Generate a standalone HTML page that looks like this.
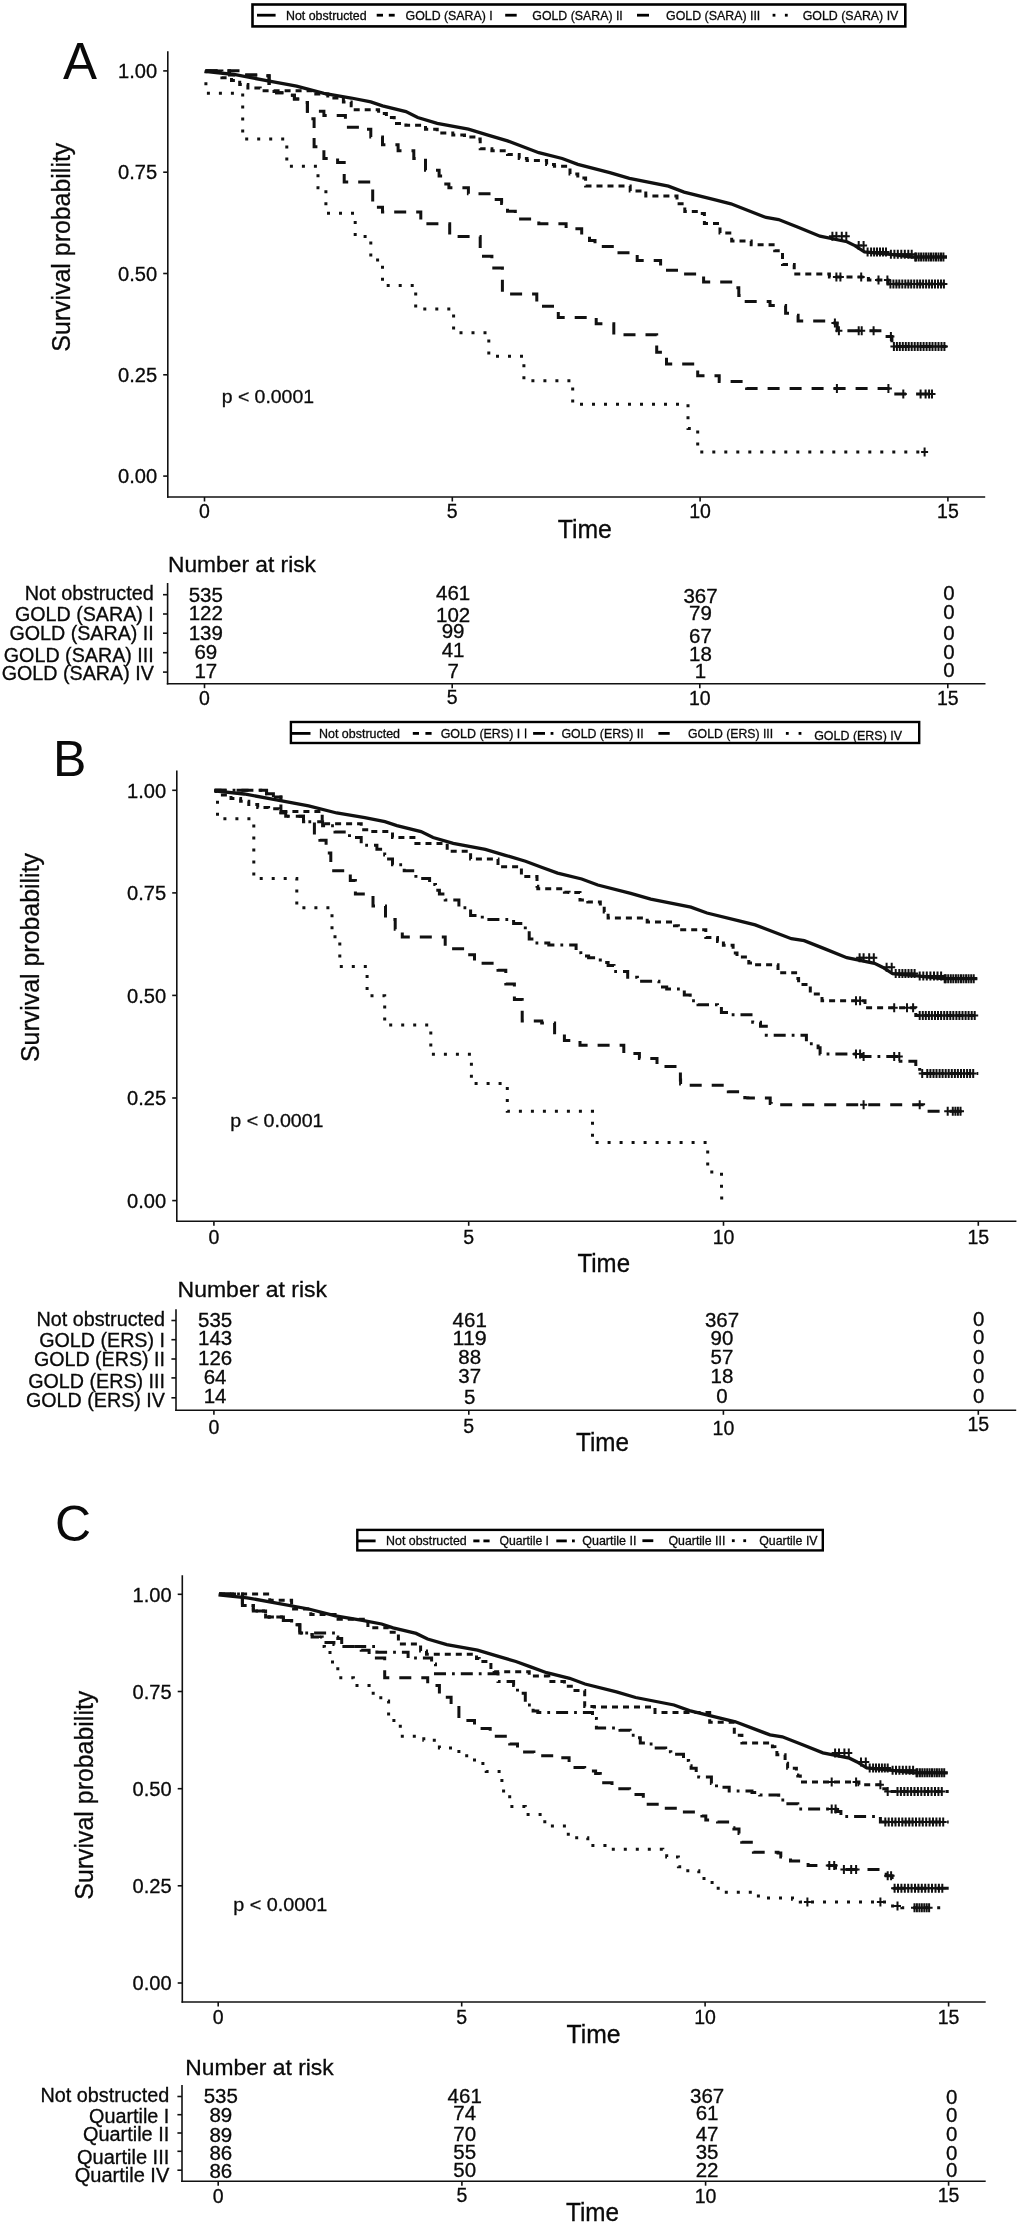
<!DOCTYPE html><html><head><meta charset="utf-8"><style>html,body{margin:0;padding:0;background:#fff;}svg{display:block;will-change:transform;}text{font-family:"Liberation Sans", sans-serif;fill:#0a0a0a;stroke:#0a0a0a;stroke-width:0.3px;}</style></head><body>
<svg width="1024" height="2228" viewBox="0 0 1024 2228">
<rect width="1024" height="2228" fill="#fff"/>
<line x1="167.8" y1="51.3" x2="167.8" y2="497.8" stroke="#111" stroke-width="1.6"/>
<line x1="167.0" y1="497.0" x2="985.2" y2="497.0" stroke="#111" stroke-width="1.6"/>
<line x1="163.2" y1="476.1" x2="167.8" y2="476.1" stroke="#111" stroke-width="1.6"/>
<text x="157.2" y="483.3" font-size="19.5" text-anchor="end" textLength="39.1" lengthAdjust="spacingAndGlyphs" >0.00</text>
<line x1="163.2" y1="374.8" x2="167.8" y2="374.8" stroke="#111" stroke-width="1.6"/>
<text x="157.2" y="382.0" font-size="19.5" text-anchor="end" textLength="39.1" lengthAdjust="spacingAndGlyphs" >0.25</text>
<line x1="163.2" y1="273.5" x2="167.8" y2="273.5" stroke="#111" stroke-width="1.6"/>
<text x="157.2" y="280.7" font-size="19.5" text-anchor="end" textLength="39.1" lengthAdjust="spacingAndGlyphs" >0.50</text>
<line x1="163.2" y1="172.2" x2="167.8" y2="172.2" stroke="#111" stroke-width="1.6"/>
<text x="157.2" y="179.4" font-size="19.5" text-anchor="end" textLength="39.1" lengthAdjust="spacingAndGlyphs" >0.75</text>
<line x1="163.2" y1="70.9" x2="167.8" y2="70.9" stroke="#111" stroke-width="1.6"/>
<text x="157.2" y="78.1" font-size="19.5" text-anchor="end" textLength="39.1" lengthAdjust="spacingAndGlyphs" >1.00</text>
<line x1="204.5" y1="497.0" x2="204.5" y2="501.5" stroke="#111" stroke-width="1.6"/>
<text x="204.5" y="517.5" font-size="19.5" text-anchor="middle" >0</text>
<line x1="452.3" y1="497.0" x2="452.3" y2="501.5" stroke="#111" stroke-width="1.6"/>
<text x="452.3" y="517.5" font-size="19.5" text-anchor="middle" >5</text>
<line x1="700.1" y1="497.0" x2="700.1" y2="501.5" stroke="#111" stroke-width="1.6"/>
<text x="700.1" y="517.5" font-size="19.5" text-anchor="middle" >10</text>
<line x1="947.9" y1="497.0" x2="947.9" y2="501.5" stroke="#111" stroke-width="1.6"/>
<text x="947.9" y="517.5" font-size="19.5" text-anchor="middle" >15</text>
<text x="62.9" y="78.6" font-size="51" text-anchor="start" style="stroke-width:0">A</text>
<text x="0" y="0" font-size="26" text-anchor="middle" textLength="209" lengthAdjust="spacingAndGlyphs" transform="translate(70.3,247.2) rotate(-90)">Survival probability</text>
<text x="221.7" y="402.5" font-size="19" text-anchor="start" textLength="92.3" lengthAdjust="spacingAndGlyphs" >p &lt; 0.0001</text>
<text x="557.7" y="537.5" font-size="25" text-anchor="start" textLength="54.2" lengthAdjust="spacingAndGlyphs" >Time</text>
<line x1="176.8" y1="770.4" x2="176.8" y2="1222.1" stroke="#111" stroke-width="1.6"/>
<line x1="176.0" y1="1221.3" x2="1016.4" y2="1221.3" stroke="#111" stroke-width="1.6"/>
<line x1="172.2" y1="1200.6" x2="176.8" y2="1200.6" stroke="#111" stroke-width="1.6"/>
<text x="166.2" y="1207.8" font-size="19.5" text-anchor="end" textLength="39.1" lengthAdjust="spacingAndGlyphs" >0.00</text>
<line x1="172.2" y1="1098.0" x2="176.8" y2="1098.0" stroke="#111" stroke-width="1.6"/>
<text x="166.2" y="1105.2" font-size="19.5" text-anchor="end" textLength="39.1" lengthAdjust="spacingAndGlyphs" >0.25</text>
<line x1="172.2" y1="995.4" x2="176.8" y2="995.4" stroke="#111" stroke-width="1.6"/>
<text x="166.2" y="1002.6" font-size="19.5" text-anchor="end" textLength="39.1" lengthAdjust="spacingAndGlyphs" >0.50</text>
<line x1="172.2" y1="892.9" x2="176.8" y2="892.9" stroke="#111" stroke-width="1.6"/>
<text x="166.2" y="900.1" font-size="19.5" text-anchor="end" textLength="39.1" lengthAdjust="spacingAndGlyphs" >0.75</text>
<line x1="172.2" y1="790.3" x2="176.8" y2="790.3" stroke="#111" stroke-width="1.6"/>
<text x="166.2" y="797.5" font-size="19.5" text-anchor="end" textLength="39.1" lengthAdjust="spacingAndGlyphs" >1.00</text>
<line x1="213.9" y1="1221.3" x2="213.9" y2="1225.8" stroke="#111" stroke-width="1.6"/>
<text x="213.9" y="1243.5" font-size="19.5" text-anchor="middle" >0</text>
<line x1="468.7" y1="1221.3" x2="468.7" y2="1225.8" stroke="#111" stroke-width="1.6"/>
<text x="468.7" y="1243.5" font-size="19.5" text-anchor="middle" >5</text>
<line x1="723.5" y1="1221.3" x2="723.5" y2="1225.8" stroke="#111" stroke-width="1.6"/>
<text x="723.5" y="1243.5" font-size="19.5" text-anchor="middle" >10</text>
<line x1="978.3" y1="1221.3" x2="978.3" y2="1225.8" stroke="#111" stroke-width="1.6"/>
<text x="978.3" y="1243.5" font-size="19.5" text-anchor="middle" >15</text>
<text x="53.0" y="776.3" font-size="50" text-anchor="start" style="stroke-width:0">B</text>
<text x="0" y="0" font-size="26" text-anchor="middle" textLength="209" lengthAdjust="spacingAndGlyphs" transform="translate(39.4,957.5) rotate(-90)">Survival probability</text>
<text x="230.3" y="1127.1" font-size="19" text-anchor="start" textLength="93.2" lengthAdjust="spacingAndGlyphs" >p &lt; 0.0001</text>
<text x="577.5" y="1272.2" font-size="25" text-anchor="start" textLength="52.5" lengthAdjust="spacingAndGlyphs" >Time</text>
<line x1="182.3" y1="1575.2" x2="182.3" y2="2002.8" stroke="#111" stroke-width="1.6"/>
<line x1="181.5" y1="2002.0" x2="985.7" y2="2002.0" stroke="#111" stroke-width="1.6"/>
<line x1="177.7" y1="1983.0" x2="182.3" y2="1983.0" stroke="#111" stroke-width="1.6"/>
<text x="171.7" y="1990.2" font-size="19.5" text-anchor="end" textLength="39.1" lengthAdjust="spacingAndGlyphs" >0.00</text>
<line x1="177.7" y1="1885.8" x2="182.3" y2="1885.8" stroke="#111" stroke-width="1.6"/>
<text x="171.7" y="1893.0" font-size="19.5" text-anchor="end" textLength="39.1" lengthAdjust="spacingAndGlyphs" >0.25</text>
<line x1="177.7" y1="1788.7" x2="182.3" y2="1788.7" stroke="#111" stroke-width="1.6"/>
<text x="171.7" y="1795.9" font-size="19.5" text-anchor="end" textLength="39.1" lengthAdjust="spacingAndGlyphs" >0.50</text>
<line x1="177.7" y1="1691.5" x2="182.3" y2="1691.5" stroke="#111" stroke-width="1.6"/>
<text x="171.7" y="1698.7" font-size="19.5" text-anchor="end" textLength="39.1" lengthAdjust="spacingAndGlyphs" >0.75</text>
<line x1="177.7" y1="1594.3" x2="182.3" y2="1594.3" stroke="#111" stroke-width="1.6"/>
<text x="171.7" y="1601.5" font-size="19.5" text-anchor="end" textLength="39.1" lengthAdjust="spacingAndGlyphs" >1.00</text>
<line x1="218.2" y1="2002.0" x2="218.2" y2="2006.5" stroke="#111" stroke-width="1.6"/>
<text x="218.2" y="2024.3" font-size="19.5" text-anchor="middle" >0</text>
<line x1="461.7" y1="2002.0" x2="461.7" y2="2006.5" stroke="#111" stroke-width="1.6"/>
<text x="461.7" y="2024.3" font-size="19.5" text-anchor="middle" >5</text>
<line x1="705.1" y1="2002.0" x2="705.1" y2="2006.5" stroke="#111" stroke-width="1.6"/>
<text x="705.1" y="2024.3" font-size="19.5" text-anchor="middle" >10</text>
<line x1="948.6" y1="2002.0" x2="948.6" y2="2006.5" stroke="#111" stroke-width="1.6"/>
<text x="948.6" y="2024.3" font-size="19.5" text-anchor="middle" >15</text>
<text x="55.1" y="1541.0" font-size="50" text-anchor="start" style="stroke-width:0">C</text>
<text x="0" y="0" font-size="26" text-anchor="middle" textLength="209" lengthAdjust="spacingAndGlyphs" transform="translate(93.1,1795.2) rotate(-90)">Survival probability</text>
<text x="233.2" y="1910.6" font-size="19" text-anchor="start" textLength="94.0" lengthAdjust="spacingAndGlyphs" >p &lt; 0.0001</text>
<text x="566.6" y="2043.4" font-size="25" text-anchor="start" textLength="54.0" lengthAdjust="spacingAndGlyphs" >Time</text>
<g fill="none" stroke="#111" stroke-width="3" stroke-linejoin="miter" stroke-linecap="butt">
<path d="M204.8,71.4L234.1,74.5L265.3,80.4L296.6,86.2L323.9,93.3L351.2,98.0L370.8,101.9L382.5,105.8L405.9,111.6L417.7,117.5L437.2,123.4L468.4,129.2L488.0,135.1L507.5,140.9L523.1,146.8L538.8,152.7L562.2,158.5L577.8,164.4L609.8,172.6L629.4,178.4L668.4,186.2L684.1,192.1L715.3,199.9L730.9,203.8L766.1,217.5L778.6,219.5L798.1,227.3L820.0,236.2L847.0,241.7L854.8,245.6L864.5,251.9L888.4,254.2L913.0,257.0L947.0,257.0" stroke-width="3.3"/>
<path d="M205.5,70.9H221.9V77.8H231.5V80.5H239.7V84.6H247.9V88.0H260.2V90.8H312.2V94.1H327.8V98.0H343.4V101.9H351.2V105.8H355.2V109.7H378.6V113.6H386.4V117.5H394.2V123.4H405.9V125.3H425.5V129.2H437.2V133.1H452.8V135.1H464.5V137.0H476.2V139.0H480.2V148.8H491.9V150.7H507.5V154.6H519.2V158.5H527.0V160.5H546.6V164.4H554.4V166.3H570.0V174.1H577.8V178.0H585.6V185.9H630.2V190.9H645.8V196.0H677.0V203.8H684.8V211.6H700.5V213.6H704.4V223.4H720.0V233.1H731.7V240.9H751.2V244.8H774.7V250.7H782.5V264.4H794.2V274.1H829.4V276.9H868.4V280.0H888.0V283.9H946.6V283.9" stroke-dasharray="6,5"/>
<path d="M205.5,70.7H229.5V75.0H258.8V75.7H269.1V91.5H276.6V92.8H284.8V95.3H294.4V99.0H301.2V102.4H307.4V111.3H323.9V115.5H345.4V127.3H361.0V129.2H370.8V137.0H382.5V144.8H398.1V150.7H413.8V158.5H425.5V170.2H439.1V176.1H443.0V183.9H448.9V187.8H468.4V193.7H491.9V199.5H501.6V203.4H507.5V211.2H515.3V219.1H538.8V223.8H566.1V228.8H581.7V234.7H589.5V240.5H595.0V246.4H613.8V252.7H637.2V260.5H660.6V270.2H684.1V274.1H703.6V282.0H734.8V287.8H738.8V295.6H742.7V301.5H770.0V305.4H785.6V313.2H789.5V315.2H798.1V321.0H829.4V323.0H837.2V330.8H884.1V336.6H891.9V346.4H946.6V346.4" stroke-dasharray="12,10"/>
<path d="M205.5,70.7H240.1V75.0H258.8V75.7H269.1V91.5H276.6V92.8H284.8V95.3H294.4V99.0H301.2V102.4H307.4V118.8H314.1V146.8H323.9V158.5H337.6V162.4H344.2V182.0H372.7V207.3H382.5V212.0H420.8V223.8H449.7V236.6H480.2V256.2H491.9V267.9H502.4V294.1H536.8V306.2H558.3V317.5H596.2V323.8H613.8V334.7H656.7V352.3H666.5V364.0H697.7V375.7H719.2V381.6H746.6V388.6H895.8V394.1H934.8V394.1" stroke-dasharray="12,10"/>
<path d="M204.8,71.4H205.9V93.3H242.7V139.0H286.8V166.3H318.0V187.8H325.9V213.2H355.2V236.6H370.8V260.1H382.5V285.5H415.7V308.9H453.6V332.7H488.8V356.2H523.9V380.8H572.7V404.2H688.0V428.4H697.7V451.9H923.1V451.9" stroke-dasharray="3,9"/>
<path d="M214.2,790.8L244.3,794.0L276.4,799.9L308.6,805.8L336.7,813.0L364.8,817.7L384.9,821.7L396.9,825.6L421.0,831.6L433.1,837.5L453.2,843.4L485.3,849.4L505.4,855.3L525.5,861.2L541.5,867.2L557.6,873.1L581.7,879.0L597.8,885.0L630.7,893.3L650.8,899.2L690.9,907.1L707.0,913.0L739.1,920.9L755.2,924.9L791.4,938.7L804.2,940.7L824.3,948.6L846.8,957.7L874.5,963.3L882.5,967.2L892.6,973.6L917.1,975.9L942.4,978.7L977.3,978.7" stroke-width="3.3"/>
<path d="M214.6,790.3H220.0V795.0H231.0V798.5H240.6V801.2H248.8V804.6H257.7V807.4H268.6V808.7H278.9V811.5H322.2V823.8H361.2V829.7H369.1V831.6H392.5V837.5H415.9V843.4H447.2V851.2H470.6V859.0H498.0V866.8H521.4V876.6H537.0V886.3H537.8V888.7H564.4V892.2H569.1V892.6H580.0V900.0H584.7V900.0H587.8V902.0H588.6V902.0H600.3V906.2H604.2V912.1H605.0V912.1H608.1V918.0H647.2V921.9H674.5V925.8H678.4V929.7H705.8V937.5H717.5V941.4H723.4V945.3H733.1V953.1H737.0V957.0H748.8V962.9H756.6V964.8H778.0V972.7H795.6V978.5H798.6V984.4H810.3V994.1H822.0V1000.8H865.0V1007.8H915.8V1015.6H978.3V1015.6" stroke-dasharray="6,5"/>
<path d="M214.6,790.3H250.1V790.3H266.6V793.7H273.4V797.1H280.9V812.8H285.7V816.3H303.5V821.7H322.6V825.8H335.0V832.0H337.8V832.0H349.5V837.5H361.2V845.3H376.9V849.2H384.7V855.1H388.6V859.0H392.5V864.8H404.2V870.7H415.9V878.5H429.6V884.4H435.5V890.2H439.4V894.1H445.2V900.0H458.9V907.8H470.6V915.6H482.3V919.5H513.6V923.4H525.3V931.2H529.2V939.1H535.1V943.0H548.8V944.9H576.1V952.7H580.8V955.9H588.6V957.8H595.6V958.6H600.3V961.7H605.0V962.5H608.1V965.6H614.0V971.5H627.7V977.3H637.4V981.2H658.9V987.1H666.7V989.1H684.3V994.9H690.2V1000.8H698.0V1004.7H717.5V1008.6H721.4V1012.5H729.2V1014.8H752.7V1022.3H760.5V1026.2H766.3V1035.2H806.4V1043.8H818.1V1047.7H820.1V1053.9H861.1V1056.6H900.2V1061.3H915.8V1067.2H919.7V1073.4H978.3V1073.4" stroke-dasharray="12,6,2.8,6"/>
<path d="M214.6,790.3H250.1V790.3H266.6V793.7H273.4V797.1H280.9V812.8H285.7V816.3H303.5V821.7H314.4V834.7H319.9V840.2H326.1V853.1H330.8V870.7H350.3V880.5H355.4V894.1H373.0V905.9H385.5V919.5H395.2V929.3H402.3V937.1H445.2V948.8H464.8V954.7H474.5V963.3H498.0V970.3H505.8V984.0H514.4V999.6H522.2V1021.1H541.7V1023.0H554.6V1032.8H564.4V1040.6H580.0V1045.3H623.8V1053.5H639.4V1058.6H657.0V1066.4H680.4V1080.1H680.6V1084.0H688.2V1085.2H728.3V1091.8H729.2V1091.8H744.8V1097.7H747.8V1098.0H770.2V1103.5H771.2V1104.7H923.6V1111.3H970.5V1111.3" stroke-dasharray="12,10"/>
<path d="M214.8,791.4H217.5V818.8H253.8V878.5H296.8V907.8H332.0V936.7H339.8V966.4H367.1V995.7H384.7V1025.0H430.8V1054.3H471.4V1083.6H507.3V1111.3H592.5V1142.6H707.7V1171.9H721.5V1194.7H721.7V1203.0" stroke-dasharray="3,9"/>
<path d="M218.5,1594.8L247.2,1597.8L277.9,1603.4L308.7,1609.0L335.5,1615.8L362.4,1620.3L381.6,1624.0L393.1,1627.8L416.1,1633.4L427.6,1639.0L446.8,1644.6L477.5,1650.2L496.7,1655.9L515.9,1661.5L531.3,1667.1L546.6,1672.7L569.6,1678.3L585.0,1684.0L616.5,1691.8L635.6,1697.5L674.0,1705.0L689.4,1710.6L720.1,1718.1L735.4,1721.8L770.0,1734.9L782.3,1736.8L801.4,1744.3L822.9,1752.9L849.4,1758.2L857.1,1761.9L866.7,1767.9L890.1,1770.2L914.3,1772.8L947.7,1772.8" stroke-width="3.3"/>
<path d="M219.1,1593.9H269.7V1600.3H291.6V1608.9H310.8V1614.4H338.1V1619.2H361.2V1619.2H367.9V1627.7H388.6V1632.3H397.2V1633.5H398.4V1644.1H420.6V1651.1H426.5V1654.2H476.5V1658.5H479.2V1661.6H490.9V1670.2H494.1V1671.8H529.2V1676.1H548.8V1681.6H564.4V1686.2H573.4V1690.5H584.7V1706.6H587.8V1706.6H594.1V1707.0H655.0V1712.5H709.7V1722.3H734.3V1735.2H741.9V1742.9H747.0V1742.9H772.4V1746.7H774.9V1750.5H776.9V1754.7H785.1V1763.2H787.6V1768.2H788.6V1768.2H796.4V1775.0H797.8V1775.9H800.3V1780.9H800.3V1782.0H858.9V1784.8H882.3V1788.7H886.2V1791.4H948.7V1791.4" stroke-dasharray="6,5"/>
<path d="M219.1,1593.9H242.4V1605.5H253.3V1611.0H265.6V1617.1H283.4V1620.6H291.6V1624.7H299.8V1632.9H319.0V1632.9H335.4V1637.0H337.8V1638.6H341.7V1646.4H376.9V1652.3H408.1V1658.1H431.6V1664.0H435.5V1673.8H498.0V1681.6H513.6V1685.5H517.5V1693.3H525.3V1705.0H526.1V1705.0H533.1V1710.9H537.8V1712.5H592.5V1718.4H596.4V1728.1H620.0V1730.2H630.2V1735.2H635.2V1737.8H640.3V1742.9H647.9V1744.1H653.0V1747.9H660.6V1747.9H665.7V1751.7H670.8V1754.3H683.5V1760.6H688.6V1765.7H691.1V1768.2H696.2V1773.3H698.7V1777.1H711.4V1783.5H716.5V1787.3H724.1V1787.3H729.2V1791.1H752.0V1792.4H759.7V1794.9H767.3V1794.9H778.7V1800.0H785.1V1803.8H792.7V1803.8H797.8V1808.9H835.8V1811.4H840.9V1816.5H880.4V1821.9H948.7V1821.9" stroke-dasharray="12,6,2.8,6"/>
<path d="M219.1,1593.9H242.4V1605.5H253.3V1611.0H265.6V1617.1H283.4V1620.6H291.6V1624.7H299.8V1632.9H312.1V1637.0H319.0V1642.5H333.9V1644.5H338.1V1646.6H361.2V1650.3H369.1V1658.1H384.7V1677.7H423.8V1677.7H427.7V1685.5H439.4V1697.2H451.1V1705.0H458.9V1720.6H474.5V1728.4H490.2V1736.2H509.7V1744.1H517.5V1751.9H533.9V1755.5H537.0V1755.8H553.4V1757.4H556.6V1757.7H569.1V1767.2H572.2V1767.5H584.7V1771.1H595.6V1773.4H600.3V1782.8H612.0V1788.7H629.6V1794.5H643.3V1804.3H662.8V1808.2H682.3V1812.1H701.9V1816.0H705.8V1819.9H717.5V1821.9H733.1V1827.7H733.9V1828.9H739.0V1833.6H739.8V1833.6H741.7V1842.2H742.9V1842.2H753.4V1852.3H754.6V1852.3H778.0V1853.1H780.8V1857.0H782.0V1857.0H790.5V1860.9H791.7V1860.9H808.1V1865.6H835.5V1869.5H886.2V1875.8H892.1V1882.4H894.1V1888.3H948.7V1888.3" stroke-dasharray="12,10"/>
<path d="M219.1,1593.9H242.4V1605.5H253.3V1611.0H265.6V1617.1H283.4V1620.6H291.6V1624.7H299.8V1632.9H312.1V1637.0H322.2V1646.4H324.4V1647.9H330.0V1662.0H337.8V1677.7H353.4V1685.5H369.1V1693.3H380.8V1701.1H388.6V1720.6H400.3V1736.2H423.8V1740.2H439.4V1748.0H458.9V1755.8H474.5V1763.6H486.2V1771.4H501.9V1790.9H509.7V1806.6H525.3V1814.4H544.8V1826.1H568.3V1837.8H587.8V1845.6H605.0V1847.6H608.1V1849.2H662.8V1851.2H666.7V1857.0H678.4V1866.8H683.1V1868.8H686.2V1870.7H698.8V1878.5H709.7V1882.4H714.4V1888.3H717.5V1888.3H722.2V1892.2H756.6V1896.1H761.2V1896.9H764.4V1898.0H792.5V1899.2H795.6V1900.0H800.3V1902.0H890.2V1905.9H901.9V1907.8H940.9V1907.8" stroke-dasharray="3,9"/>
</g>
<g stroke="#111" stroke-width="2" fill="none">
<path d="M828.9,236.2h7M832.4,231.8v9"/>
<path d="M832.9,236.2h7M836.4,231.8v9"/>
<path d="M838.3,236.2h7M841.8,231.8v9"/>
<path d="M842.8,236.2h7M846.3,231.8v9"/>
<path d="M855.2,245.6h7M858.7,241.1v9"/>
<path d="M860.1,245.6h7M863.6,241.1v9"/>
<path d="M864.1,251.9h7M867.6,247.4v9"/>
<path d="M867.6,251.9h7M871.1,247.4v9"/>
<path d="M870.6,251.9h7M874.1,247.4v9"/>
<path d="M873.5,251.9h7M877.0,247.4v9"/>
<path d="M876.5,251.9h7M880.0,247.4v9"/>
<path d="M879.5,251.9h7M883.0,247.4v9"/>
<path d="M882.5,251.9h7M886.0,247.4v9"/>
<path d="M887.4,254.2h7M890.9,249.7v9"/>
<path d="M890.9,254.2h7M894.4,249.7v9"/>
<path d="M894.3,254.2h7M897.8,249.7v9"/>
<path d="M897.8,254.2h7M901.3,249.7v9"/>
<path d="M901.3,254.2h7M904.8,249.7v9"/>
<path d="M904.8,254.2h7M908.3,249.7v9"/>
<path d="M908.2,254.2h7M911.7,249.7v9"/>
<path d="M911.7,257.0h7M915.2,252.5v9"/>
<path d="M912.7,257.0h7M916.2,252.5v9"/>
<path d="M915.2,257.0h7M918.7,252.5v9"/>
<path d="M917.6,257.0h7M921.1,252.5v9"/>
<path d="M920.1,257.0h7M923.6,252.5v9"/>
<path d="M922.6,257.0h7M926.1,252.5v9"/>
<path d="M925.1,257.0h7M928.6,252.5v9"/>
<path d="M927.5,257.0h7M931.0,252.5v9"/>
<path d="M930.0,257.0h7M933.5,252.5v9"/>
<path d="M932.5,257.0h7M936.0,252.5v9"/>
<path d="M935.0,257.0h7M938.5,252.5v9"/>
<path d="M937.5,257.0h7M941.0,252.5v9"/>
<path d="M939.9,257.0h7M943.4,252.5v9"/>
<path d="M832.9,276.9h7M836.4,272.4v9"/>
<path d="M836.9,276.9h7M840.4,272.4v9"/>
<path d="M857.7,276.9h7M861.2,272.4v9"/>
<path d="M875.0,280.0h7M878.5,275.5v9"/>
<path d="M883.9,280.0h7M887.4,275.5v9"/>
<path d="M886.9,283.9h7M890.4,279.4v9"/>
<path d="M889.9,283.9h7M893.4,279.4v9"/>
<path d="M892.9,283.9h7M896.4,279.4v9"/>
<path d="M895.8,283.9h7M899.3,279.4v9"/>
<path d="M898.8,283.9h7M902.3,279.4v9"/>
<path d="M901.8,283.9h7M905.3,279.4v9"/>
<path d="M904.8,283.9h7M908.3,279.4v9"/>
<path d="M907.7,283.9h7M911.2,279.4v9"/>
<path d="M910.7,283.9h7M914.2,279.4v9"/>
<path d="M913.7,283.9h7M917.2,279.4v9"/>
<path d="M916.6,283.9h7M920.1,279.4v9"/>
<path d="M919.6,283.9h7M923.1,279.4v9"/>
<path d="M922.6,283.9h7M926.1,279.4v9"/>
<path d="M925.6,283.9h7M929.1,279.4v9"/>
<path d="M928.5,283.9h7M932.0,279.4v9"/>
<path d="M931.5,283.9h7M935.0,279.4v9"/>
<path d="M934.5,283.9h7M938.0,279.4v9"/>
<path d="M937.5,283.9h7M941.0,279.4v9"/>
<path d="M940.4,283.9h7M943.9,279.4v9"/>
<path d="M831.4,323.0h7M834.9,318.5v9"/>
<path d="M835.4,330.8h7M838.9,326.3v9"/>
<path d="M855.2,330.8h7M858.7,326.3v9"/>
<path d="M858.2,330.8h7M861.7,326.3v9"/>
<path d="M870.1,330.8h7M873.6,326.3v9"/>
<path d="M887.4,336.6h7M890.9,332.1v9"/>
<path d="M890.4,346.4h7M893.9,341.9v9"/>
<path d="M893.4,346.4h7M896.9,341.9v9"/>
<path d="M896.3,346.4h7M899.8,341.9v9"/>
<path d="M899.3,346.4h7M902.8,341.9v9"/>
<path d="M902.3,346.4h7M905.8,341.9v9"/>
<path d="M905.2,346.4h7M908.7,341.9v9"/>
<path d="M908.2,346.4h7M911.7,341.9v9"/>
<path d="M911.2,346.4h7M914.7,341.9v9"/>
<path d="M914.2,346.4h7M917.7,341.9v9"/>
<path d="M917.1,346.4h7M920.6,341.9v9"/>
<path d="M920.1,346.4h7M923.6,341.9v9"/>
<path d="M923.1,346.4h7M926.6,341.9v9"/>
<path d="M926.1,346.4h7M929.6,341.9v9"/>
<path d="M929.0,346.4h7M932.5,341.9v9"/>
<path d="M932.0,346.4h7M935.5,341.9v9"/>
<path d="M935.0,346.4h7M938.5,341.9v9"/>
<path d="M938.0,346.4h7M941.5,341.9v9"/>
<path d="M940.9,346.4h7M944.4,341.9v9"/>
<path d="M833.4,388.6h7M836.9,384.1v9"/>
<path d="M884.9,388.6h7M888.4,384.1v9"/>
<path d="M899.8,394.1h7M903.3,389.6v9"/>
<path d="M917.1,394.1h7M920.6,389.6v9"/>
<path d="M922.1,394.1h7M925.6,389.6v9"/>
<path d="M925.6,394.1h7M929.1,389.6v9"/>
<path d="M928.5,394.1h7M932.0,389.6v9"/>
<path d="M921.1,451.9h7M924.6,447.4v9"/>
<path d="M856.1,957.7h7M859.6,953.2v9"/>
<path d="M860.1,957.7h7M863.6,953.2v9"/>
<path d="M865.7,957.7h7M869.2,953.2v9"/>
<path d="M870.3,957.7h7M873.8,953.2v9"/>
<path d="M883.1,967.2h7M886.6,962.7v9"/>
<path d="M888.2,967.2h7M891.7,962.7v9"/>
<path d="M892.2,973.6h7M895.7,969.1v9"/>
<path d="M895.8,973.6h7M899.3,969.1v9"/>
<path d="M898.9,973.6h7M902.4,969.1v9"/>
<path d="M901.9,973.6h7M905.4,969.1v9"/>
<path d="M905.0,973.6h7M908.5,969.1v9"/>
<path d="M908.0,973.6h7M911.5,969.1v9"/>
<path d="M911.1,973.6h7M914.6,969.1v9"/>
<path d="M916.2,975.9h7M919.7,971.4v9"/>
<path d="M919.8,975.9h7M923.3,971.4v9"/>
<path d="M923.3,975.9h7M926.8,971.4v9"/>
<path d="M926.9,975.9h7M930.4,971.4v9"/>
<path d="M930.5,975.9h7M934.0,971.4v9"/>
<path d="M934.0,975.9h7M937.5,971.4v9"/>
<path d="M937.6,975.9h7M941.1,971.4v9"/>
<path d="M941.2,978.7h7M944.7,974.2v9"/>
<path d="M942.2,978.7h7M945.7,974.2v9"/>
<path d="M944.7,978.7h7M948.2,974.2v9"/>
<path d="M947.3,978.7h7M950.8,974.2v9"/>
<path d="M949.8,978.7h7M953.3,974.2v9"/>
<path d="M952.4,978.7h7M955.9,974.2v9"/>
<path d="M954.9,978.7h7M958.4,974.2v9"/>
<path d="M957.5,978.7h7M961.0,974.2v9"/>
<path d="M960.0,978.7h7M963.5,974.2v9"/>
<path d="M962.6,978.7h7M966.1,974.2v9"/>
<path d="M965.1,978.7h7M968.6,974.2v9"/>
<path d="M967.7,978.7h7M971.2,974.2v9"/>
<path d="M970.2,978.7h7M973.7,974.2v9"/>
<path d="M852.5,1000.8h7M856.0,996.3v9"/>
<path d="M856.6,1000.8h7M860.1,996.3v9"/>
<path d="M890.7,1007.8h7M894.2,1003.3v9"/>
<path d="M903.5,1007.8h7M907.0,1003.3v9"/>
<path d="M909.6,1007.8h7M913.1,1003.3v9"/>
<path d="M916.2,1015.6h7M919.7,1011.1v9"/>
<path d="M919.3,1015.6h7M922.8,1011.1v9"/>
<path d="M922.3,1015.6h7M925.8,1011.1v9"/>
<path d="M925.4,1015.6h7M928.9,1011.1v9"/>
<path d="M928.4,1015.6h7M931.9,1011.1v9"/>
<path d="M931.5,1015.6h7M935.0,1011.1v9"/>
<path d="M934.5,1015.6h7M938.0,1011.1v9"/>
<path d="M937.6,1015.6h7M941.1,1011.1v9"/>
<path d="M940.7,1015.6h7M944.2,1011.1v9"/>
<path d="M943.7,1015.6h7M947.2,1011.1v9"/>
<path d="M946.8,1015.6h7M950.3,1011.1v9"/>
<path d="M949.8,1015.6h7M953.3,1011.1v9"/>
<path d="M952.9,1015.6h7M956.4,1011.1v9"/>
<path d="M955.9,1015.6h7M959.4,1011.1v9"/>
<path d="M959.0,1015.6h7M962.5,1011.1v9"/>
<path d="M962.1,1015.6h7M965.6,1011.1v9"/>
<path d="M965.1,1015.6h7M968.6,1011.1v9"/>
<path d="M968.2,1015.6h7M971.7,1011.1v9"/>
<path d="M971.2,1015.6h7M974.7,1011.1v9"/>
<path d="M852.5,1053.9h7M856.0,1049.4v9"/>
<path d="M856.6,1053.9h7M860.1,1049.4v9"/>
<path d="M860.1,1056.6h7M863.6,1052.1v9"/>
<path d="M890.7,1056.6h7M894.2,1052.1v9"/>
<path d="M895.8,1056.6h7M899.3,1052.1v9"/>
<path d="M918.7,1073.4h7M922.2,1068.9v9"/>
<path d="M923.8,1073.4h7M927.3,1068.9v9"/>
<path d="M926.9,1073.4h7M930.4,1068.9v9"/>
<path d="M930.0,1073.4h7M933.5,1068.9v9"/>
<path d="M933.0,1073.4h7M936.5,1068.9v9"/>
<path d="M936.1,1073.4h7M939.6,1068.9v9"/>
<path d="M939.1,1073.4h7M942.6,1068.9v9"/>
<path d="M942.2,1073.4h7M945.7,1068.9v9"/>
<path d="M945.2,1073.4h7M948.7,1068.9v9"/>
<path d="M948.3,1073.4h7M951.8,1068.9v9"/>
<path d="M951.4,1073.4h7M954.9,1068.9v9"/>
<path d="M954.4,1073.4h7M957.9,1068.9v9"/>
<path d="M957.5,1073.4h7M961.0,1068.9v9"/>
<path d="M960.5,1073.4h7M964.0,1068.9v9"/>
<path d="M963.6,1073.4h7M967.1,1068.9v9"/>
<path d="M966.6,1073.4h7M970.1,1068.9v9"/>
<path d="M969.7,1073.4h7M973.2,1068.9v9"/>
<path d="M860.1,1104.7h7M863.6,1100.2v9"/>
<path d="M916.2,1104.7h7M919.7,1100.2v9"/>
<path d="M944.2,1111.3h7M947.7,1106.8v9"/>
<path d="M949.3,1111.3h7M952.8,1106.8v9"/>
<path d="M951.9,1111.3h7M955.4,1106.8v9"/>
<path d="M954.4,1111.3h7M957.9,1106.8v9"/>
<path d="M957.0,1111.3h7M960.5,1106.8v9"/>
<path d="M831.6,1752.9h7M835.1,1748.4v9"/>
<path d="M835.5,1752.9h7M839.0,1748.4v9"/>
<path d="M840.9,1752.9h7M844.4,1748.4v9"/>
<path d="M845.3,1752.9h7M848.8,1748.4v9"/>
<path d="M857.5,1761.9h7M861.0,1757.4v9"/>
<path d="M862.3,1761.9h7M865.8,1757.4v9"/>
<path d="M866.2,1767.9h7M869.7,1763.4v9"/>
<path d="M869.6,1767.9h7M873.1,1763.4v9"/>
<path d="M872.5,1767.9h7M876.0,1763.4v9"/>
<path d="M875.5,1767.9h7M879.0,1763.4v9"/>
<path d="M878.4,1767.9h7M881.9,1763.4v9"/>
<path d="M881.3,1767.9h7M884.8,1763.4v9"/>
<path d="M884.2,1767.9h7M887.7,1763.4v9"/>
<path d="M889.1,1770.2h7M892.6,1765.7v9"/>
<path d="M892.5,1770.2h7M896.0,1765.7v9"/>
<path d="M895.9,1770.2h7M899.4,1765.7v9"/>
<path d="M899.3,1770.2h7M902.8,1765.7v9"/>
<path d="M902.7,1770.2h7M906.2,1765.7v9"/>
<path d="M906.1,1770.2h7M909.6,1765.7v9"/>
<path d="M909.6,1770.2h7M913.1,1765.7v9"/>
<path d="M913.0,1772.8h7M916.5,1768.3v9"/>
<path d="M913.9,1772.8h7M917.4,1768.3v9"/>
<path d="M916.4,1772.8h7M919.9,1768.3v9"/>
<path d="M918.8,1772.8h7M922.3,1768.3v9"/>
<path d="M921.2,1772.8h7M924.7,1768.3v9"/>
<path d="M923.7,1772.8h7M927.2,1768.3v9"/>
<path d="M926.1,1772.8h7M929.6,1768.3v9"/>
<path d="M928.5,1772.8h7M932.0,1768.3v9"/>
<path d="M931.0,1772.8h7M934.5,1768.3v9"/>
<path d="M933.4,1772.8h7M936.9,1768.3v9"/>
<path d="M935.8,1772.8h7M939.3,1768.3v9"/>
<path d="M938.3,1772.8h7M941.8,1768.3v9"/>
<path d="M940.7,1772.8h7M944.2,1768.3v9"/>
<path d="M828.2,1782.0h7M831.7,1777.5v9"/>
<path d="M852.6,1782.0h7M856.1,1777.5v9"/>
<path d="M876.9,1784.8h7M880.4,1780.3v9"/>
<path d="M884.2,1791.4h7M887.7,1786.9v9"/>
<path d="M894.0,1791.4h7M897.5,1786.9v9"/>
<path d="M897.4,1791.4h7M900.9,1786.9v9"/>
<path d="M900.8,1791.4h7M904.3,1786.9v9"/>
<path d="M904.2,1791.4h7M907.7,1786.9v9"/>
<path d="M907.6,1791.4h7M911.1,1786.9v9"/>
<path d="M911.0,1791.4h7M914.5,1786.9v9"/>
<path d="M914.4,1791.4h7M917.9,1786.9v9"/>
<path d="M917.8,1791.4h7M921.3,1786.9v9"/>
<path d="M921.2,1791.4h7M924.7,1786.9v9"/>
<path d="M924.6,1791.4h7M928.1,1786.9v9"/>
<path d="M928.1,1791.4h7M931.6,1786.9v9"/>
<path d="M931.5,1791.4h7M935.0,1786.9v9"/>
<path d="M934.9,1791.4h7M938.4,1786.9v9"/>
<path d="M938.3,1791.4h7M941.8,1786.9v9"/>
<path d="M828.2,1808.9h7M831.7,1804.4v9"/>
<path d="M832.1,1808.9h7M835.6,1804.4v9"/>
<path d="M881.8,1821.9h7M885.3,1817.4v9"/>
<path d="M885.2,1821.9h7M888.7,1817.4v9"/>
<path d="M888.6,1821.9h7M892.1,1817.4v9"/>
<path d="M892.0,1821.9h7M895.5,1817.4v9"/>
<path d="M895.4,1821.9h7M898.9,1817.4v9"/>
<path d="M898.8,1821.9h7M902.3,1817.4v9"/>
<path d="M902.2,1821.9h7M905.7,1817.4v9"/>
<path d="M905.7,1821.9h7M909.2,1817.4v9"/>
<path d="M909.1,1821.9h7M912.6,1817.4v9"/>
<path d="M912.5,1821.9h7M916.0,1817.4v9"/>
<path d="M915.9,1821.9h7M919.4,1817.4v9"/>
<path d="M919.3,1821.9h7M922.8,1817.4v9"/>
<path d="M922.7,1821.9h7M926.2,1817.4v9"/>
<path d="M926.1,1821.9h7M929.6,1817.4v9"/>
<path d="M929.5,1821.9h7M933.0,1817.4v9"/>
<path d="M932.9,1821.9h7M936.4,1817.4v9"/>
<path d="M936.3,1821.9h7M939.8,1817.4v9"/>
<path d="M939.7,1821.9h7M943.2,1817.4v9"/>
<path d="M825.8,1865.6h7M829.3,1861.1v9"/>
<path d="M830.7,1865.6h7M834.2,1861.1v9"/>
<path d="M840.4,1869.5h7M843.9,1865.0v9"/>
<path d="M847.7,1869.5h7M851.2,1865.0v9"/>
<path d="M852.6,1869.5h7M856.1,1865.0v9"/>
<path d="M884.2,1875.8h7M887.7,1871.3v9"/>
<path d="M887.6,1875.8h7M891.1,1871.3v9"/>
<path d="M891.1,1888.3h7M894.6,1883.8v9"/>
<path d="M894.5,1888.3h7M898.0,1883.8v9"/>
<path d="M897.9,1888.3h7M901.4,1883.8v9"/>
<path d="M901.3,1888.3h7M904.8,1883.8v9"/>
<path d="M904.7,1888.3h7M908.2,1883.8v9"/>
<path d="M908.1,1888.3h7M911.6,1883.8v9"/>
<path d="M911.5,1888.3h7M915.0,1883.8v9"/>
<path d="M914.9,1888.3h7M918.4,1883.8v9"/>
<path d="M918.3,1888.3h7M921.8,1883.8v9"/>
<path d="M921.7,1888.3h7M925.2,1883.8v9"/>
<path d="M925.1,1888.3h7M928.6,1883.8v9"/>
<path d="M928.5,1888.3h7M932.0,1883.8v9"/>
<path d="M932.0,1888.3h7M935.5,1883.8v9"/>
<path d="M935.4,1888.3h7M938.9,1883.8v9"/>
<path d="M938.8,1888.3h7M942.3,1883.8v9"/>
<path d="M803.9,1902.0h7M807.4,1897.5v9"/>
<path d="M876.9,1902.0h7M880.4,1897.5v9"/>
<path d="M894.0,1905.9h7M897.5,1901.4v9"/>
<path d="M911.0,1907.8h7M914.5,1903.3v9"/>
<path d="M913.4,1907.8h7M916.9,1903.3v9"/>
<path d="M915.9,1907.8h7M919.4,1903.3v9"/>
<path d="M918.3,1907.8h7M921.8,1903.3v9"/>
<path d="M920.8,1907.8h7M924.3,1903.3v9"/>
<path d="M923.2,1907.8h7M926.7,1903.3v9"/>
<path d="M925.6,1907.8h7M929.1,1903.3v9"/>
</g>
<rect x="252.5" y="4.5" width="652.8" height="21.9" fill="none" stroke="#000" stroke-width="2.6"/>
<line x1="257" y1="15.2" x2="275.6" y2="15.2" stroke="#000" stroke-width="2.8"/>
<text x="286.0" y="19.6" font-size="12.4" text-anchor="start" textLength="80.6" lengthAdjust="spacingAndGlyphs" >Not obstructed</text>
<line x1="376.7" y1="15.2" x2="383" y2="15.2" stroke="#000" stroke-width="2.8"/>
<line x1="388.8" y1="15.2" x2="394.7" y2="15.2" stroke="#000" stroke-width="2.8"/>
<text x="405.6" y="19.6" font-size="12.4" text-anchor="start" textLength="87.1" lengthAdjust="spacingAndGlyphs" >GOLD (SARA) I</text>
<line x1="505.2" y1="15.2" x2="516.7" y2="15.2" stroke="#000" stroke-width="2.8"/>
<text x="532.3" y="19.6" font-size="12.4" text-anchor="start" textLength="90.5" lengthAdjust="spacingAndGlyphs" >GOLD (SARA) II</text>
<line x1="637" y1="15.2" x2="649" y2="15.2" stroke="#000" stroke-width="2.8"/>
<text x="666.0" y="19.6" font-size="12.4" text-anchor="start" textLength="94.3" lengthAdjust="spacingAndGlyphs" >GOLD (SARA) III</text>
<rect x="772.6" y="13.799999999999999" width="2.8" height="2.8" fill="#000"/>
<rect x="784.9" y="13.799999999999999" width="2.8" height="2.8" fill="#000"/>
<text x="802.7" y="19.6" font-size="12.4" text-anchor="start" textLength="95.7" lengthAdjust="spacingAndGlyphs" >GOLD (SARA) IV</text>
<rect x="290.9" y="722.0" width="628.3" height="21.0" fill="none" stroke="#000" stroke-width="2.4"/>
<line x1="291" y1="733.4" x2="310.5" y2="733.4" stroke="#000" stroke-width="2.8"/>
<text x="319.0" y="738.4" font-size="12.4" text-anchor="start" textLength="81.0" lengthAdjust="spacingAndGlyphs" >Not obstructed</text>
<line x1="412.8" y1="733.4" x2="419" y2="733.4" stroke="#000" stroke-width="2.8"/>
<line x1="425.4" y1="733.4" x2="431.6" y2="733.4" stroke="#000" stroke-width="2.8"/>
<text x="440.7" y="737.6" font-size="12.4" text-anchor="start" textLength="79.5" lengthAdjust="spacingAndGlyphs" >GOLD (ERS) I</text>
<line x1="525.6" y1="728.4" x2="525.6" y2="738.4" stroke="#000" stroke-width="1.4"/>
<line x1="533.1" y1="733.4" x2="545" y2="733.4" stroke="#000" stroke-width="2.8"/>
<rect x="550.6" y="732.0" width="2.8" height="2.8" fill="#000"/>
<text x="561.5" y="737.6" font-size="12.4" text-anchor="start" textLength="82.2" lengthAdjust="spacingAndGlyphs" >GOLD (ERS) II</text>
<line x1="658.4" y1="733.4" x2="669.7" y2="733.4" stroke="#000" stroke-width="2.8"/>
<text x="688.1" y="737.7" font-size="12.4" text-anchor="start" textLength="85.0" lengthAdjust="spacingAndGlyphs" >GOLD (ERS) III</text>
<rect x="785.9" y="732.0" width="2.8" height="2.8" fill="#000"/>
<rect x="798.6" y="732.0" width="2.8" height="2.8" fill="#000"/>
<text x="814.2" y="739.9" font-size="12.4" text-anchor="start" textLength="87.8" lengthAdjust="spacingAndGlyphs" >GOLD (ERS) IV</text>
<rect x="357.3" y="1529.9" width="465.5" height="20.5" fill="none" stroke="#000" stroke-width="2.4"/>
<line x1="358" y1="1540.9" x2="375.6" y2="1540.9" stroke="#000" stroke-width="2.8"/>
<text x="386.1" y="1545.0" font-size="12.4" text-anchor="start" textLength="80.6" lengthAdjust="spacingAndGlyphs" >Not obstructed</text>
<line x1="473.3" y1="1540.9" x2="479.5" y2="1540.9" stroke="#000" stroke-width="2.8"/>
<line x1="483.4" y1="1540.9" x2="489.6" y2="1540.9" stroke="#000" stroke-width="2.8"/>
<text x="499.4" y="1545.0" font-size="12.4" text-anchor="start" textLength="49.6" lengthAdjust="spacingAndGlyphs" >Quartile I</text>
<line x1="556.3" y1="1540.9" x2="566.8" y2="1540.9" stroke="#000" stroke-width="2.8"/>
<rect x="572.0" y="1539.5" width="2.8" height="2.8" fill="#000"/>
<text x="582.2" y="1544.8" font-size="12.4" text-anchor="start" textLength="54.3" lengthAdjust="spacingAndGlyphs" >Quartile II</text>
<line x1="642.4" y1="1540.7" x2="653.3" y2="1540.7" stroke="#000" stroke-width="2.8"/>
<text x="668.5" y="1544.8" font-size="12.4" text-anchor="start" textLength="56.9" lengthAdjust="spacingAndGlyphs" >Quartile III</text>
<rect x="731.9" y="1539.3" width="2.8" height="2.8" fill="#000"/>
<rect x="743.3000000000001" y="1539.3" width="2.8" height="2.8" fill="#000"/>
<text x="759.2" y="1544.8" font-size="12.4" text-anchor="start" textLength="58.4" lengthAdjust="spacingAndGlyphs" >Quartile IV</text>
<line x1="167.6" y1="583.0" x2="167.6" y2="684.5" stroke="#111" stroke-width="1.6"/>
<line x1="166.8" y1="683.7" x2="985.5" y2="683.7" stroke="#111" stroke-width="1.6"/>
<line x1="163.0" y1="594.7" x2="167.6" y2="594.7" stroke="#111" stroke-width="1.6"/>
<line x1="163.0" y1="614.0" x2="167.6" y2="614.0" stroke="#111" stroke-width="1.6"/>
<line x1="163.0" y1="633.2" x2="167.6" y2="633.2" stroke="#111" stroke-width="1.6"/>
<line x1="163.0" y1="652.7" x2="167.6" y2="652.7" stroke="#111" stroke-width="1.6"/>
<line x1="163.0" y1="672.1" x2="167.6" y2="672.1" stroke="#111" stroke-width="1.6"/>
<line x1="204.5" y1="683.7" x2="204.5" y2="688.2" stroke="#111" stroke-width="1.6"/>
<text x="204.5" y="704.6" font-size="19.5" text-anchor="middle" >0</text>
<line x1="452.2" y1="683.7" x2="452.2" y2="688.2" stroke="#111" stroke-width="1.6"/>
<text x="452.2" y="704.0" font-size="19.5" text-anchor="middle" >5</text>
<line x1="699.8" y1="683.7" x2="699.8" y2="688.2" stroke="#111" stroke-width="1.6"/>
<text x="699.8" y="704.5" font-size="19.5" text-anchor="middle" >10</text>
<line x1="947.8" y1="683.7" x2="947.8" y2="688.2" stroke="#111" stroke-width="1.6"/>
<text x="947.8" y="704.7" font-size="19.5" text-anchor="middle" >15</text>
<text x="168.0" y="571.6" font-size="22" text-anchor="start" textLength="148.0" lengthAdjust="spacingAndGlyphs" >Number at risk</text>
<text x="153.8" y="599.8" font-size="19.5" text-anchor="end" textLength="129.0" lengthAdjust="spacingAndGlyphs" >Not obstructed</text>
<text x="153.8" y="620.8" font-size="19.5" text-anchor="end" textLength="138.8" lengthAdjust="spacingAndGlyphs" >GOLD (SARA) I</text>
<text x="153.8" y="639.6" font-size="19.5" text-anchor="end" textLength="144.4" lengthAdjust="spacingAndGlyphs" >GOLD (SARA) II</text>
<text x="153.8" y="662.2" font-size="19.5" text-anchor="end" textLength="150.0" lengthAdjust="spacingAndGlyphs" >GOLD (SARA) III</text>
<text x="153.8" y="680.1" font-size="19.5" text-anchor="end" textLength="152.1" lengthAdjust="spacingAndGlyphs" >GOLD (SARA) IV</text>
<text x="205.8" y="601.8" font-size="19.5" text-anchor="middle" textLength="34.2" lengthAdjust="spacingAndGlyphs" >535</text>
<text x="205.8" y="620.1" font-size="19.5" text-anchor="middle" textLength="34.2" lengthAdjust="spacingAndGlyphs" >122</text>
<text x="205.8" y="640.0" font-size="19.5" text-anchor="middle" textLength="34.2" lengthAdjust="spacingAndGlyphs" >139</text>
<text x="205.8" y="659.1" font-size="19.5" text-anchor="middle" textLength="22.8" lengthAdjust="spacingAndGlyphs" >69</text>
<text x="205.8" y="678.2" font-size="19.5" text-anchor="middle" textLength="22.8" lengthAdjust="spacingAndGlyphs" >17</text>
<text x="453.1" y="600.2" font-size="19.5" text-anchor="middle" textLength="34.2" lengthAdjust="spacingAndGlyphs" >461</text>
<text x="453.1" y="621.8" font-size="19.5" text-anchor="middle" textLength="34.2" lengthAdjust="spacingAndGlyphs" >102</text>
<text x="453.1" y="638.3" font-size="19.5" text-anchor="middle" textLength="22.8" lengthAdjust="spacingAndGlyphs" >99</text>
<text x="453.1" y="657.3" font-size="19.5" text-anchor="middle" textLength="22.8" lengthAdjust="spacingAndGlyphs" >41</text>
<text x="453.1" y="678.2" font-size="19.5" text-anchor="middle" textLength="11.4" lengthAdjust="spacingAndGlyphs" >7</text>
<text x="700.5" y="602.8" font-size="19.5" text-anchor="middle" textLength="34.2" lengthAdjust="spacingAndGlyphs" >367</text>
<text x="700.5" y="620.1" font-size="19.5" text-anchor="middle" textLength="22.8" lengthAdjust="spacingAndGlyphs" >79</text>
<text x="700.5" y="642.7" font-size="19.5" text-anchor="middle" textLength="22.8" lengthAdjust="spacingAndGlyphs" >67</text>
<text x="700.5" y="660.9" font-size="19.5" text-anchor="middle" textLength="22.8" lengthAdjust="spacingAndGlyphs" >18</text>
<text x="700.5" y="678.2" font-size="19.5" text-anchor="middle" textLength="11.4" lengthAdjust="spacingAndGlyphs" >1</text>
<text x="949.0" y="599.6" font-size="19.5" text-anchor="middle" textLength="11.4" lengthAdjust="spacingAndGlyphs" >0</text>
<text x="949.0" y="618.9" font-size="19.5" text-anchor="middle" textLength="11.4" lengthAdjust="spacingAndGlyphs" >0</text>
<text x="949.0" y="640.3" font-size="19.5" text-anchor="middle" textLength="11.4" lengthAdjust="spacingAndGlyphs" >0</text>
<text x="949.0" y="659.4" font-size="19.5" text-anchor="middle" textLength="11.4" lengthAdjust="spacingAndGlyphs" >0</text>
<text x="949.0" y="677.2" font-size="19.5" text-anchor="middle" textLength="11.4" lengthAdjust="spacingAndGlyphs" >0</text>
<line x1="176.0" y1="1309.2" x2="176.0" y2="1411.1" stroke="#111" stroke-width="1.6"/>
<line x1="175.2" y1="1410.3" x2="1016.2" y2="1410.3" stroke="#111" stroke-width="1.6"/>
<line x1="171.4" y1="1320.5" x2="176.0" y2="1320.5" stroke="#111" stroke-width="1.6"/>
<line x1="171.4" y1="1339.7" x2="176.0" y2="1339.7" stroke="#111" stroke-width="1.6"/>
<line x1="171.4" y1="1359.0" x2="176.0" y2="1359.0" stroke="#111" stroke-width="1.6"/>
<line x1="171.4" y1="1377.9" x2="176.0" y2="1377.9" stroke="#111" stroke-width="1.6"/>
<line x1="171.4" y1="1397.8" x2="176.0" y2="1397.8" stroke="#111" stroke-width="1.6"/>
<line x1="213.9" y1="1410.3" x2="213.9" y2="1414.8" stroke="#111" stroke-width="1.6"/>
<text x="213.9" y="1433.8" font-size="19.5" text-anchor="middle" >0</text>
<line x1="468.8" y1="1410.3" x2="468.8" y2="1414.8" stroke="#111" stroke-width="1.6"/>
<text x="468.8" y="1433.3" font-size="19.5" text-anchor="middle" >5</text>
<line x1="723.4" y1="1410.3" x2="723.4" y2="1414.8" stroke="#111" stroke-width="1.6"/>
<text x="723.4" y="1434.9" font-size="19.5" text-anchor="middle" >10</text>
<line x1="978.3" y1="1410.3" x2="978.3" y2="1414.8" stroke="#111" stroke-width="1.6"/>
<text x="978.3" y="1430.8" font-size="19.5" text-anchor="middle" >15</text>
<text x="177.6" y="1297.2" font-size="22" text-anchor="start" textLength="149.4" lengthAdjust="spacingAndGlyphs" >Number at risk</text>
<text x="165.0" y="1326.4" font-size="19.5" text-anchor="end" textLength="128.5" lengthAdjust="spacingAndGlyphs" >Not obstructed</text>
<text x="165.0" y="1347.0" font-size="19.5" text-anchor="end" textLength="125.8" lengthAdjust="spacingAndGlyphs" >GOLD (ERS) I</text>
<text x="165.0" y="1366.3" font-size="19.5" text-anchor="end" textLength="131.1" lengthAdjust="spacingAndGlyphs" >GOLD (ERS) II</text>
<text x="165.0" y="1387.9" font-size="19.5" text-anchor="end" textLength="136.8" lengthAdjust="spacingAndGlyphs" >GOLD (ERS) III</text>
<text x="165.0" y="1406.8" font-size="19.5" text-anchor="end" textLength="139.1" lengthAdjust="spacingAndGlyphs" >GOLD (ERS) IV</text>
<text x="215.1" y="1326.7" font-size="19.5" text-anchor="middle" textLength="34.2" lengthAdjust="spacingAndGlyphs" >535</text>
<text x="215.1" y="1345.0" font-size="19.5" text-anchor="middle" textLength="34.2" lengthAdjust="spacingAndGlyphs" >143</text>
<text x="215.1" y="1364.9" font-size="19.5" text-anchor="middle" textLength="34.2" lengthAdjust="spacingAndGlyphs" >126</text>
<text x="215.1" y="1383.8" font-size="19.5" text-anchor="middle" textLength="22.8" lengthAdjust="spacingAndGlyphs" >64</text>
<text x="215.1" y="1403.1" font-size="19.5" text-anchor="middle" textLength="22.8" lengthAdjust="spacingAndGlyphs" >14</text>
<text x="469.7" y="1326.8" font-size="19.5" text-anchor="middle" textLength="34.2" lengthAdjust="spacingAndGlyphs" >461</text>
<text x="469.7" y="1345.1" font-size="19.5" text-anchor="middle" textLength="34.2" lengthAdjust="spacingAndGlyphs" >119</text>
<text x="469.7" y="1364.4" font-size="19.5" text-anchor="middle" textLength="22.8" lengthAdjust="spacingAndGlyphs" >88</text>
<text x="469.7" y="1383.3" font-size="19.5" text-anchor="middle" textLength="22.8" lengthAdjust="spacingAndGlyphs" >37</text>
<text x="469.7" y="1403.9" font-size="19.5" text-anchor="middle" textLength="11.4" lengthAdjust="spacingAndGlyphs" >5</text>
<text x="722.0" y="1326.8" font-size="19.5" text-anchor="middle" textLength="34.2" lengthAdjust="spacingAndGlyphs" >367</text>
<text x="722.0" y="1345.1" font-size="19.5" text-anchor="middle" textLength="22.8" lengthAdjust="spacingAndGlyphs" >90</text>
<text x="722.0" y="1364.3" font-size="19.5" text-anchor="middle" textLength="22.8" lengthAdjust="spacingAndGlyphs" >57</text>
<text x="722.0" y="1383.3" font-size="19.5" text-anchor="middle" textLength="22.8" lengthAdjust="spacingAndGlyphs" >18</text>
<text x="722.0" y="1403.3" font-size="19.5" text-anchor="middle" textLength="11.4" lengthAdjust="spacingAndGlyphs" >0</text>
<text x="978.8" y="1326.0" font-size="19.5" text-anchor="middle" textLength="11.4" lengthAdjust="spacingAndGlyphs" >0</text>
<text x="978.8" y="1344.1" font-size="19.5" text-anchor="middle" textLength="11.4" lengthAdjust="spacingAndGlyphs" >0</text>
<text x="978.8" y="1364.2" font-size="19.5" text-anchor="middle" textLength="11.4" lengthAdjust="spacingAndGlyphs" >0</text>
<text x="978.8" y="1383.4" font-size="19.5" text-anchor="middle" textLength="11.4" lengthAdjust="spacingAndGlyphs" >0</text>
<text x="978.8" y="1403.4" font-size="19.5" text-anchor="middle" textLength="11.4" lengthAdjust="spacingAndGlyphs" >0</text>
<text x="576.0" y="1451.0" font-size="25" text-anchor="start" textLength="53.0" lengthAdjust="spacingAndGlyphs" >Time</text>
<line x1="182.0" y1="2084.9" x2="182.0" y2="2182.0" stroke="#111" stroke-width="1.6"/>
<line x1="181.2" y1="2181.2" x2="985.7" y2="2181.2" stroke="#111" stroke-width="1.6"/>
<line x1="177.4" y1="2096.5" x2="182.0" y2="2096.5" stroke="#111" stroke-width="1.6"/>
<line x1="177.4" y1="2114.7" x2="182.0" y2="2114.7" stroke="#111" stroke-width="1.6"/>
<line x1="177.4" y1="2133.0" x2="182.0" y2="2133.0" stroke="#111" stroke-width="1.6"/>
<line x1="177.4" y1="2151.3" x2="182.0" y2="2151.3" stroke="#111" stroke-width="1.6"/>
<line x1="177.4" y1="2170.2" x2="182.0" y2="2170.2" stroke="#111" stroke-width="1.6"/>
<line x1="218.2" y1="2181.2" x2="218.2" y2="2185.7" stroke="#111" stroke-width="1.6"/>
<text x="218.2" y="2202.6" font-size="19.5" text-anchor="middle" >0</text>
<line x1="461.9" y1="2181.2" x2="461.9" y2="2185.7" stroke="#111" stroke-width="1.6"/>
<text x="461.9" y="2201.6" font-size="19.5" text-anchor="middle" >5</text>
<line x1="705.6" y1="2181.2" x2="705.6" y2="2185.7" stroke="#111" stroke-width="1.6"/>
<text x="705.6" y="2202.5" font-size="19.5" text-anchor="middle" >10</text>
<line x1="948.6" y1="2181.2" x2="948.6" y2="2185.7" stroke="#111" stroke-width="1.6"/>
<text x="948.6" y="2202.1" font-size="19.5" text-anchor="middle" >15</text>
<text x="185.3" y="2074.9" font-size="22" text-anchor="start" textLength="148.4" lengthAdjust="spacingAndGlyphs" >Number at risk</text>
<text x="169.3" y="2101.5" font-size="19.5" text-anchor="end" textLength="128.8" lengthAdjust="spacingAndGlyphs" >Not obstructed</text>
<text x="169.3" y="2123.0" font-size="19.5" text-anchor="end" textLength="80.3" lengthAdjust="spacingAndGlyphs" >Quartile I</text>
<text x="169.3" y="2141.3" font-size="19.5" text-anchor="end" textLength="86.3" lengthAdjust="spacingAndGlyphs" >Quartile II</text>
<text x="169.3" y="2163.5" font-size="19.5" text-anchor="end" textLength="92.3" lengthAdjust="spacingAndGlyphs" >Quartile III</text>
<text x="169.3" y="2182.1" font-size="19.5" text-anchor="end" textLength="94.6" lengthAdjust="spacingAndGlyphs" >Quartile IV</text>
<text x="220.8" y="2102.8" font-size="19.5" text-anchor="middle" textLength="34.2" lengthAdjust="spacingAndGlyphs" >535</text>
<text x="220.8" y="2121.7" font-size="19.5" text-anchor="middle" textLength="22.8" lengthAdjust="spacingAndGlyphs" >89</text>
<text x="220.8" y="2141.6" font-size="19.5" text-anchor="middle" textLength="22.8" lengthAdjust="spacingAndGlyphs" >89</text>
<text x="220.8" y="2159.9" font-size="19.5" text-anchor="middle" textLength="22.8" lengthAdjust="spacingAndGlyphs" >86</text>
<text x="220.8" y="2178.1" font-size="19.5" text-anchor="middle" textLength="22.8" lengthAdjust="spacingAndGlyphs" >86</text>
<text x="464.7" y="2102.8" font-size="19.5" text-anchor="middle" textLength="34.2" lengthAdjust="spacingAndGlyphs" >461</text>
<text x="464.7" y="2120.1" font-size="19.5" text-anchor="middle" textLength="22.8" lengthAdjust="spacingAndGlyphs" >74</text>
<text x="464.7" y="2140.7" font-size="19.5" text-anchor="middle" textLength="22.8" lengthAdjust="spacingAndGlyphs" >70</text>
<text x="464.7" y="2159.3" font-size="19.5" text-anchor="middle" textLength="22.8" lengthAdjust="spacingAndGlyphs" >55</text>
<text x="464.7" y="2176.5" font-size="19.5" text-anchor="middle" textLength="22.8" lengthAdjust="spacingAndGlyphs" >50</text>
<text x="707.1" y="2102.8" font-size="19.5" text-anchor="middle" textLength="34.2" lengthAdjust="spacingAndGlyphs" >367</text>
<text x="707.1" y="2120.1" font-size="19.5" text-anchor="middle" textLength="22.8" lengthAdjust="spacingAndGlyphs" >61</text>
<text x="707.1" y="2140.7" font-size="19.5" text-anchor="middle" textLength="22.8" lengthAdjust="spacingAndGlyphs" >47</text>
<text x="707.1" y="2159.3" font-size="19.5" text-anchor="middle" textLength="22.8" lengthAdjust="spacingAndGlyphs" >35</text>
<text x="707.1" y="2176.5" font-size="19.5" text-anchor="middle" textLength="22.8" lengthAdjust="spacingAndGlyphs" >22</text>
<text x="951.6" y="2103.9" font-size="19.5" text-anchor="middle" textLength="11.4" lengthAdjust="spacingAndGlyphs" >0</text>
<text x="951.6" y="2121.9" font-size="19.5" text-anchor="middle" textLength="11.4" lengthAdjust="spacingAndGlyphs" >0</text>
<text x="951.6" y="2141.1" font-size="19.5" text-anchor="middle" textLength="11.4" lengthAdjust="spacingAndGlyphs" >0</text>
<text x="951.6" y="2160.0" font-size="19.5" text-anchor="middle" textLength="11.4" lengthAdjust="spacingAndGlyphs" >0</text>
<text x="951.6" y="2177.3" font-size="19.5" text-anchor="middle" textLength="11.4" lengthAdjust="spacingAndGlyphs" >0</text>
<text x="566.0" y="2221.1" font-size="25" text-anchor="start" textLength="53.1" lengthAdjust="spacingAndGlyphs" >Time</text>
</svg></body></html>
